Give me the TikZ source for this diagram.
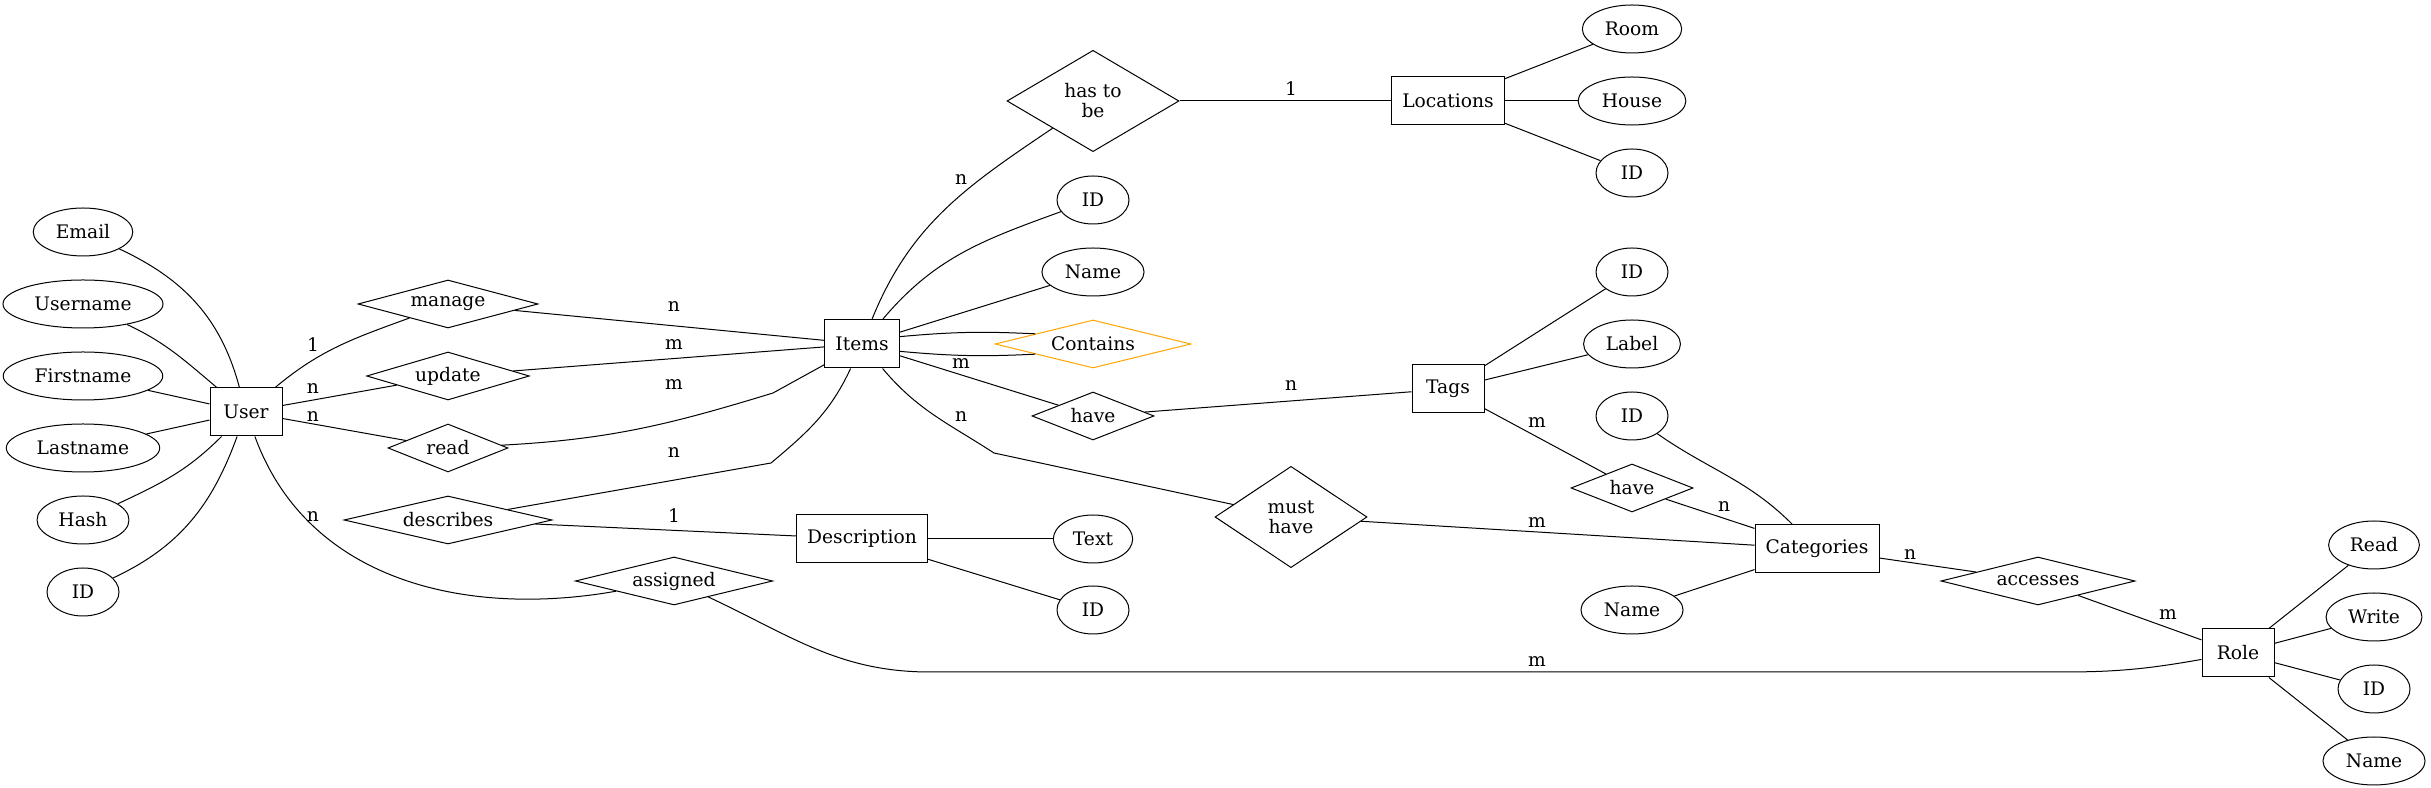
\documentclass[tikz,border=0pt]{standalone}
\usepackage{fontspec}
\setmainfont{DejaVu Serif}
\usetikzlibrary{shapes.geometric}

\definecolor{gvorange}{HTML}{FFA500}

\tikzset{
  entity/.style={draw, rectangle, minimum width=54pt, minimum height=36pt, inner xsep=8pt},
  attr/.style={draw, ellipse, minimum width=54pt, minimum height=36pt, inner xsep=6pt, inner ysep=0pt},
  rel/.style={draw, diamond, aspect=4, inner sep=0pt, minimum height=36pt},
  card/.style={inner sep=0pt},
}

\begin{document}
\begin{tikzpicture}[x=0.75pt, y=0.75pt, line width=0.75pt, font=\fontsize{14}{15}\selectfont]
            \useasboundingbox (0,0) rectangle (2431,788);

            % User and its attributes
            \node [attr] (email) at (83,556) {Email};
            \node [attr] (username) at (83,484) {Username};
            \node [attr] (firstname) at (83,412) {Firstname};
            \node [attr] (lastname) at (83,340) {Lastname};
            \node [attr] (hash) at (83,268) {Hash};
            \node [attr] (userid) at (83,196) {ID};
            \node [entity] (user) at (246,376) {User};

            \node [rel, minimum width=135pt] (manage) at (448,484) {manage};
            \node [rel, minimum width=122pt] (update) at (448,412) {update};
            \node [rel, minimum width=90pt] (read) at (448,340) {read};
            \node [rel, minimum width=156pt] (describes) at (448,268) {describes};
            \node [rel, minimum width=148pt] (assigned) at (674,207) {assigned};

            % Items, Description
            \node [entity] (items) at (862,444) {Items};
            \node [entity] (description) at (862,249) {Description};
            \node [rel, aspect=1.7, align=center, minimum width=129pt, minimum height=76pt]
                  (hasto) at (1093,687) {has to\\be};
            \node [attr] (itemid) at (1093,588) {ID};
            \node [attr] (itemname) at (1093,516) {Name};
            \node [rel, draw=gvorange, minimum width=147pt] (contains) at (1093,444) {Contains};
            \node [rel, minimum width=91.5pt] (havetag) at (1093,372) {have};
            \node [attr] (text) at (1093,249) {Text};
            \node [attr] (descid) at (1093,178) {ID};
            \node [rel, aspect=1.5, align=center, minimum width=114pt, minimum height=76pt]
                  (musthave) at (1291,271) {must\\have};

            % Locations, Tags, Categories
            \node [entity] (locations) at (1448,687) {Locations};
            \node [entity] (tags) at (1448,399) {Tags};
            \node [attr] (room) at (1632,759) {Room};
            \node [attr] (house) at (1632,687) {House};
            \node [attr] (locid) at (1632,615) {ID};
            \node [attr] (tagid) at (1632,516) {ID};
            \node [attr] (label) at (1632,444) {Label};
            \node [attr] (catid) at (1632,372) {ID};
            \node [rel, minimum width=91.5pt] (havecat) at (1632,300) {have};
            \node [attr] (catname) at (1632,178) {Name};
            \node [entity] (categories) at (1817,239) {Categories};

            % Role
            \node [rel, minimum width=145.5pt] (accesses) at (2038,207) {accesses};
            \node [entity] (role) at (2238,135) {Role};
            \node [attr] (roleread) at (2374,243) {Read};
            \node [attr] (rolewrite) at (2374,171) {Write};
            \node [attr] (roleid) at (2374,99) {ID};
            \node [attr] (rolename) at (2374,27) {Name};

            % bends of the long connectors
            \coordinate (assignedL) at (930,116);
            \coordinate (assignedR) at (2062,116);
            \coordinate (readbend) at (773,395);
            \coordinate (describesbend) at (771,325);
            \coordinate (mustbend) at (994,335);

            % connectors
            \draw (email) to[out=-25,in=105] (user);
            \draw (username) to[out=-25,in=140] (user);
            \draw (firstname) -- (user);
            \draw (lastname) -- (user);
            \draw (hash) to[out=25,in=-135] (user);
            \draw (userid) to[out=25,in=-110] (user);

            \draw (user) to[out=40,in=-160] (manage);
            \draw (user) -- (update);
            \draw (user) -- (read);
            \draw (user) to[out=-70,in=190] (assigned);

            \draw (manage) -- (items);
            \draw (update) -- (items);
            \draw (read) to[out=3,in=197] (readbend) -- (items);
            \draw (describes) -- (describesbend) to[out=40,in=-115] (items);
            \draw (describes) -- (description);
            \draw (assigned) to[out=-25,in=180] (assignedL) -- (assignedR)
                to[out=0,in=190] (role);

            \draw (items) to[out=68,in=-146] (hasto);
            \draw (items) to[out=50,in=200] (itemid);
            \draw (items) -- (itemname);
            \draw (items.11) to[bend left=4] (contains.170);
            \draw (items.-11) to[bend right=4] (contains.190);
            \draw (items) -- (havetag);
            \draw (items) to[out=-50,in=147] (mustbend) -- (musthave);

            \draw (description) -- (text);
            \draw (description) -- (descid);
            \draw (hasto) -- (locations);
            \draw (locations) -- (room);
            \draw (locations) -- (house);
            \draw (locations) -- (locid);
            \draw (havetag) -- (tags);
            \draw (musthave) -- (categories);
            \draw (tags) -- (tagid);
            \draw (tags) -- (label);
            \draw (tags) -- (havecat);
            \draw (havecat) -- (categories);
            \draw (categories) to[out=135,in=-35] (catid);
            \draw (categories) -- (catname);
            \draw (categories) -- (accesses);
            \draw (accesses) -- (role);
            \draw (role) -- (roleread);
            \draw (role) -- (rolewrite);
            \draw (role) -- (roleid);
            \draw (role) -- (rolename);

            % cardinalities
            \node [card] (cmanage) at (313,443) {1};
            \node [card] (cupdate) at (313,399) {n};
            \node [card] (cread) at (313,371) {n};
            \node [card] (cassigned) at (313,271) {n};
            \node [card] (cmanageitems) at (674,481) {n};
            \node [card] (cupdateitems) at (674,443) {m};
            \node [card] (creaditems) at (674,403) {m};
            \node [card] (cdescitems) at (674,335) {n};
            \node [card] (cdescdesc) at (674,272) {1};
            \node [card] (chasto) at (961,608) {n};
            \node [card] (chavetag) at (961,424) {m};
            \node [card] (cmusthave) at (961,371) {n};
            \node [card] (clocations) at (1291,699) {1};
            \node [card] (ctags) at (1291,402) {n};
            \node [card] (ctaghave) at (1537,365) {m};
            \node [card] (cmustcat) at (1537,265) {m};
            \node [card] (crole) at (1537,126) {m};
            \node [card] (chavecat) at (1724,281) {n};
            \node [card] (caccesses) at (1910,233) {n};
            \node [card] (caccrole) at (2168,173) {m};

        \end{tikzpicture}
\end{document}
